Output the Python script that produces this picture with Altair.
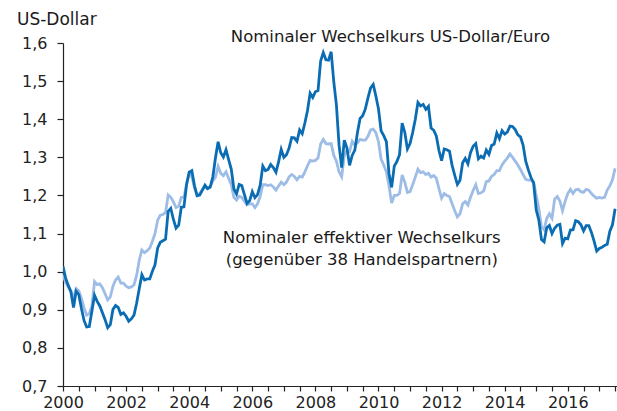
import altair as alt
import pandas as pd

# Monthly values, January 2000 to July 2017
usd_per_eur = [
    1.014, 0.983, 0.964, 0.947, 0.906, 0.949, 0.940, 0.904, 0.872, 0.855, 0.856, 0.897,
    0.938, 0.922, 0.910, 0.892, 0.874, 0.853, 0.861, 0.901, 0.911, 0.906, 0.888, 0.892,
    0.883, 0.870, 0.876, 0.886, 0.917, 0.955, 0.992, 0.978, 0.981, 0.981, 1.001, 1.018,
    1.062, 1.077, 1.081, 1.085, 1.158, 1.166, 1.137, 1.114, 1.122, 1.169, 1.170, 1.229,
    1.261, 1.265, 1.226, 1.199, 1.201, 1.214, 1.227, 1.218, 1.222, 1.249, 1.299, 1.341,
    1.312, 1.301, 1.320, 1.294, 1.269, 1.217, 1.204, 1.229, 1.226, 1.202, 1.179, 1.186,
    1.210, 1.194, 1.202, 1.227, 1.277, 1.265, 1.268, 1.281, 1.273, 1.261, 1.288, 1.321,
    1.300, 1.307, 1.324, 1.352, 1.351, 1.342, 1.372, 1.362, 1.390, 1.423, 1.468, 1.457,
    1.472, 1.475, 1.553, 1.575, 1.556, 1.555, 1.577, 1.498, 1.437, 1.332, 1.273, 1.345,
    1.324, 1.279, 1.305, 1.319, 1.365, 1.402, 1.409, 1.427, 1.456, 1.482, 1.491, 1.461,
    1.427, 1.369, 1.357, 1.341, 1.257, 1.221, 1.277, 1.289, 1.307, 1.390, 1.366, 1.322,
    1.336, 1.365, 1.400, 1.444, 1.435, 1.439, 1.426, 1.434, 1.377, 1.371, 1.356, 1.318,
    1.291, 1.322, 1.320, 1.316, 1.279, 1.253, 1.229, 1.240, 1.286, 1.297, 1.283, 1.312,
    1.329, 1.336, 1.296, 1.303, 1.298, 1.319, 1.308, 1.331, 1.335, 1.364, 1.349, 1.370,
    1.361, 1.366, 1.382, 1.381, 1.373, 1.359, 1.354, 1.332, 1.290, 1.267, 1.247, 1.233,
    1.162, 1.135, 1.084, 1.078, 1.115, 1.121, 1.100, 1.114, 1.122, 1.124, 1.074, 1.088,
    1.086, 1.109, 1.110, 1.134, 1.131, 1.123, 1.107, 1.121, 1.121, 1.103, 1.080, 1.054,
    1.061, 1.064, 1.069, 1.072, 1.106, 1.123, 1.165,
]

effective_rate = [
    0.991, 0.972, 0.960, 0.950, 0.928, 0.956, 0.950, 0.930, 0.905, 0.886, 0.890, 0.910,
    0.974, 0.966, 0.968, 0.958, 0.942, 0.926, 0.934, 0.962, 0.978, 0.986, 0.970, 0.970,
    0.962, 0.958, 0.960, 0.965, 0.990, 1.030, 1.057, 1.050, 1.055, 1.062, 1.080, 1.100,
    1.135, 1.148, 1.150, 1.155, 1.201, 1.195, 1.183, 1.168, 1.172, 1.195, 1.195, 1.230,
    1.258, 1.250, 1.220, 1.201, 1.205, 1.215, 1.222, 1.218, 1.224, 1.238, 1.248, 1.276,
    1.258, 1.252, 1.262, 1.245, 1.228, 1.195, 1.188, 1.198, 1.195, 1.185, 1.175, 1.178,
    1.178, 1.168, 1.178, 1.197, 1.228, 1.228, 1.226, 1.228, 1.222, 1.214, 1.225, 1.235,
    1.228, 1.235, 1.249, 1.255, 1.250, 1.241, 1.250, 1.248, 1.262, 1.278, 1.292, 1.290,
    1.292, 1.298, 1.335, 1.347, 1.336, 1.335, 1.336, 1.305, 1.290, 1.262, 1.249, 1.305,
    1.318, 1.315, 1.342, 1.332, 1.338, 1.347, 1.345, 1.345, 1.355, 1.372, 1.374, 1.365,
    1.341, 1.295, 1.280, 1.262, 1.225, 1.180, 1.200, 1.200, 1.205, 1.254, 1.235, 1.208,
    1.210, 1.228, 1.248, 1.269, 1.260, 1.262, 1.255, 1.258, 1.248, 1.252, 1.245, 1.218,
    1.193, 1.205, 1.200, 1.197, 1.178, 1.160, 1.144, 1.152, 1.178, 1.184, 1.175, 1.195,
    1.213, 1.228, 1.205, 1.207, 1.212, 1.236, 1.238, 1.250, 1.255, 1.265, 1.265, 1.280,
    1.290, 1.298, 1.309, 1.300, 1.290, 1.280, 1.268, 1.255, 1.242, 1.240, 1.240, 1.235,
    1.200, 1.165, 1.118, 1.110, 1.140, 1.152, 1.140, 1.190, 1.197, 1.185, 1.160, 1.185,
    1.205, 1.216, 1.205, 1.215, 1.216, 1.210, 1.208, 1.216, 1.214, 1.205, 1.198, 1.193,
    1.195, 1.193, 1.195, 1.214, 1.225, 1.241, 1.271,
]

x_ticks = [2000 + 0.5 * i for i in range(36)]
y_ticks = [0.7, 0.8, 0.9, 1.0, 1.1, 1.2, 1.3, 1.4, 1.5, 1.6]

annot_text = [
    "Nominaler Wechselkurs US-Dollar/Euro",
    "Nominaler effektiver Wechselkurs",
    "(gegenüber 38 Handelspartnern)",
]
annot_x = [2010.38, 2009.47, 2009.47]
annot_y = [1.603, 1.076, 1.0176]

DARK = "#0a6db3"
LIGHT = "#9dbce6"
FONT = "DejaVu Sans"

months = [2000 + i / 12 for i in range(len(usd_per_eur))]
df_dark = pd.DataFrame({"t": months, "v": usd_per_eur})
df_light = pd.DataFrame({"t": months[: len(effective_rate)], "v": effective_rate})
df_annot = pd.DataFrame({"t": annot_x, "v": annot_y, "label": annot_text})

x_scale = alt.Scale(domain=[2000, 2017.56], nice=False, zero=False)
y_scale = alt.Scale(domain=[0.7, 1.6], nice=False, zero=False)

x_axis = alt.Axis(
    values=x_ticks,
    labelExpr="datum.value % 2 == 0 ? format(datum.value, 'd') : ''",
    tickSize=5,
    labelPadding=3,
    labelFlush=False,
    labelOverlap=False,
    labelBound=False,
    grid=False,
    title=None,
)
y_axis = alt.Axis(
    values=y_ticks,
    labelExpr="replace(format(datum.value, '.1f'), '.', ',')",
    tickSize=6,
    labelPadding=10,
    grid=False,
    title=None,
    labelOverlap=False,
    labelFlush=False,
    labelBound=False,
)

X = alt.X("t:Q", scale=x_scale, axis=x_axis)
Y = alt.Y("v:Q", scale=y_scale, axis=y_axis)

light = alt.Chart(df_light).mark_line(color=LIGHT, strokeWidth=2.8, clip=True).encode(x=X, y=Y)
dark = alt.Chart(df_dark).mark_line(color=DARK, strokeWidth=2.8, clip=True).encode(x=X, y=Y)
annot = alt.Chart(df_annot).mark_text(
    font=FONT, fontSize=16.5, color="#1a1a1a", align="center", baseline="alphabetic"
).encode(x=X, y=Y, text="label:N")
unit = alt.Chart(pd.DataFrame({"label": ["US-Dollar"]})).mark_text(
    font=FONT, fontSize=17, color="#1a1a1a", align="left", baseline="alphabetic"
).encode(
    x=alt.value(-46),
    y=alt.value(-18),
    text="label:N",
)

chart = (
    alt.layer(light, dark, annot, unit)
    .properties(
        width=554,
        height=343,
        padding={"left": 63, "top": 43, "right": 0, "bottom": 25},
        autosize=alt.AutoSizeParams(type="none"),
        background="white",
    )
    .configure_view(stroke=None)
    .configure_axis(
        domainColor="#222222",
        tickColor="#222222",
        domainWidth=1.2,
        tickWidth=1.2,
        labelFont=FONT,
        labelFontSize=16,
        labelColor="#222222",
    )
)

chart.save("out.html", embed_options={"renderer": "svg", "actions": False})
